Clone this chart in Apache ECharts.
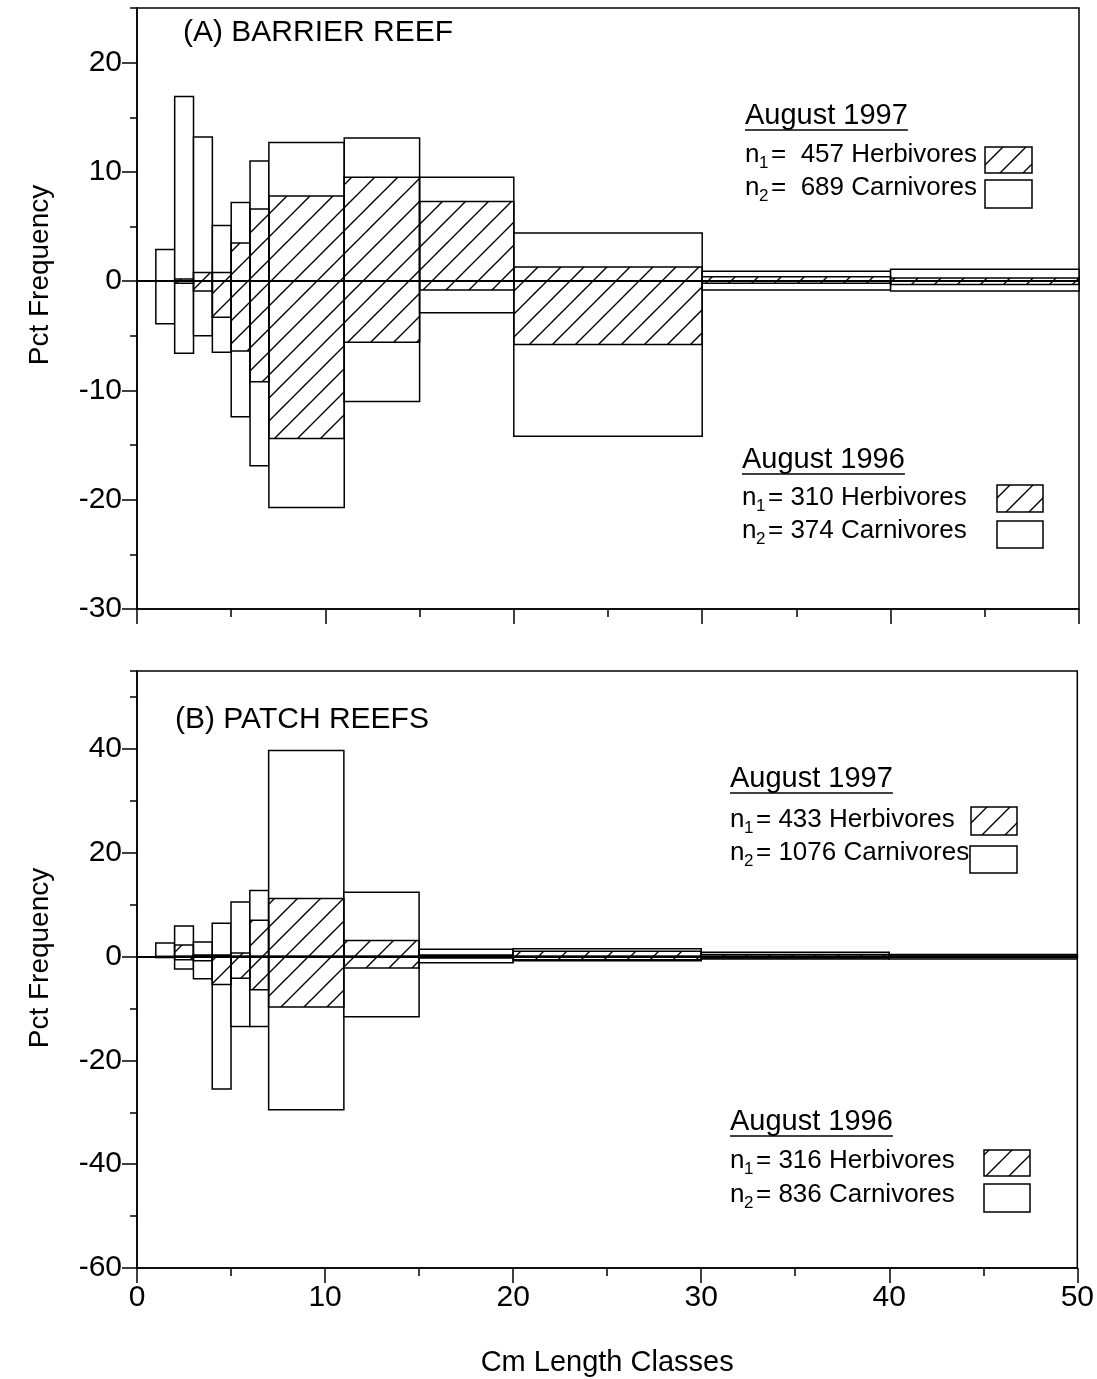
<!DOCTYPE html>
<html>
<head>
<meta charset="utf-8">
<title>Pct Frequency by length class</title>
<script src="https://cdn.jsdelivr.net/npm/echarts@6/dist/echarts.min.js"></script>
<style>
  html, body { margin: 0; padding: 0; background: #fff; }
  #chart { width: 1097px; height: 1379px; }
</style>
</head>
<body>
<div id="chart"></div>
<script>
// length classes in cm (bin edges, classes are unequal)
const binEdges = [1, 2, 3, 4, 5, 6, 7, 11, 15, 20, 30, 40, 50]

// (A) barrier reef, 1997 above zero, 1996 below
const barrierCarn1997 = [2.9, 16.9, 13.2, 5.1, 7.2, 11.0, 12.7, 13.1, 9.5, 4.4, 0.9, 1.1]
const barrierHerb1997 = [0, 0.2, 0.8, 0.8, 3.5, 6.6, 7.8, 9.5, 7.3, 1.3, 0.4, 0.3]
const barrierHerb1996 = [0, -0.2, -0.9, -3.3, -6.4, -9.2, -14.4, -5.6, -0.8, -5.8, -0.2, -0.3]
const barrierCarn1996 = [-3.9, -6.6, -5.0, -6.5, -12.4, -16.9, -20.7, -11.0, -2.9, -14.2, -0.8, -0.9]

// (B) patch reefs
const patchCarn1997 = [2.6, 5.9, 2.8, 6.4, 10.5, 12.7, 39.7, 12.4, 1.4, 1.5, 0.8, 0.4]
const patchHerb1997 = [0, 2.2, 0.3, 0.3, 0.7, 7.0, 11.2, 3.1, 0.3, 1.0, 0.4, 0.1]
const patchHerb1996 = [0, -0.6, -0.8, -5.4, -4.2, -6.4, -9.7, -2.2, -0.3, -0.6, -0.3, -0.2]
const patchCarn1996 = [-0.2, -2.4, -4.3, -25.5, -13.5, -13.5, -29.5, -11.6, -1.2, -0.8, -0.5, -0.5]

// tick labels
const barrierYTicks = [-30, -20, -10, 0, 10, 20]
const patchYTicks = [-60, -40, -20, 0, 20, 40]

const FONT = '"Liberation Sans", Arial, Helvetica, sans-serif'
const lineStyle = { color: '#000', width: 1.5 }

function hatchPattern() {
  const s = 23
  const c = document.createElement('canvas')
  c.width = s
  c.height = s
  const ctx = c.getContext('2d')
  ctx.strokeStyle = '#000'
  ctx.lineWidth = 1.4
  ctx.beginPath()
  ctx.moveTo(0, s); ctx.lineTo(s, 0)
  ctx.moveTo(-s / 2, s / 2); ctx.lineTo(s / 2, -s / 2)
  ctx.moveTo(s / 2, s * 1.5); ctx.lineTo(s * 1.5, s / 2)
  ctx.stroke()
  return { image: c, repeat: 'repeat' }
}
const hatch = hatchPattern()

function boxRenderer(fill) {
  return function (params, api) {
    const v = api.value(2)
    if (!v) return null
    const a = api.coord([api.value(0), 0])
    const b = api.coord([api.value(1), v])
    return {
      type: 'rect',
      shape: { x: a[0], y: Math.min(a[1], b[1]), width: b[0] - a[0], height: Math.abs(b[1] - a[1]) },
      style: { fill: fill, stroke: '#000', lineWidth: 1.5 }
    }
  }
}

function boxSeries(panel, values, fill, zeroLine) {
  const s = {
    type: 'custom',
    xAxisIndex: panel,
    yAxisIndex: panel * 2,
    renderItem: boxRenderer(fill),
    encode: { x: [0, 1], y: 2 },
    data: values.map((v, i) => [binEdges[i], binEdges[i + 1], v]),
    silent: true
  }
  if (zeroLine) {
    s.markLine = {
      silent: true,
      symbol: 'none',
      label: { show: false },
      lineStyle: { color: '#000', width: 2, type: 'solid' },
      data: [{ yAxis: 0 }]
    }
  }
  return s
}

function xAxisFor(panel, withLabels) {
  return {
    type: 'value',
    gridIndex: panel,
    min: 0,
    max: 50,
    interval: 10,
    axisLine: { onZero: false, lineStyle: lineStyle },
    axisTick: { length: 15, lineStyle: lineStyle },
    minorTick: { show: true, splitNumber: 2, length: 8, lineStyle: lineStyle },
    splitLine: { show: false },
    axisLabel: { show: withLabels, margin: 15, color: '#000', fontSize: 30, fontFamily: FONT },
    name: withLabels ? 'Cm Length Classes' : '',
    nameLocation: 'middle',
    nameGap: 80,
    nameTextStyle: { color: '#000', fontSize: 29, fontFamily: FONT }
  }
}

function yAxesFor(panel, min, max, minorStep, ticks) {
  return [
    {
      type: 'value',
      gridIndex: panel,
      min: min,
      max: max,
      interval: minorStep,
      axisLine: { onZero: false, lineStyle: lineStyle },
      axisTick: { length: 7, lineStyle: lineStyle },
      axisLabel: { show: false },
      splitLine: { show: false }
    },
    {
      type: 'value',
      gridIndex: panel,
      min: min,
      max: max,
      interval: ticks[1] - ticks[0],
      position: 'left',
      axisLine: { show: false, onZero: false },
      axisTick: { length: 15, customValues: ticks, lineStyle: lineStyle },
      axisLabel: { customValues: ticks, margin: 15, color: '#000', fontSize: 30, fontFamily: FONT },
      splitLine: { show: false }
    }
  ]
}

// legend and panel text
const measure = document.createElement('canvas').getContext('2d')
function text(x, y, str, size) {
  return { type: 'text', x: x, y: y, style: { text: str, fill: '#000', fontSize: size, fontFamily: FONT, verticalAlign: 'middle' } }
}
function yTitle(y) {
  return {
    type: 'text', x: 40, y: y, rotation: Math.PI / 2,
    style: { text: 'Pct Frequency', fill: '#000', fontSize: 28, fontFamily: FONT, align: 'center', verticalAlign: 'middle' }
  }
}
function heading(x, y, str) {
  measure.font = '29px ' + FONT
  const w = measure.measureText(str).width
  return [
    text(x, y, str, 29),
    { type: 'line', shape: { x1: x, y1: y + 14, x2: x + w, y2: y + 14 }, style: { stroke: '#000', lineWidth: 1.5 } }
  ]
}
function nLine(x, y, sub, rest) {
  return [text(x, y, 'n', 26), text(x + 14, y + 8, sub, 17), text(x + 26, y, rest, 26)]
}
function swatch(x, y, w, h, fill) {
  return { type: 'rect', shape: { x: x, y: y, width: w, height: h }, style: { fill: fill, stroke: '#000', lineWidth: 1.5 } }
}

const graphics = [].concat(
  yTitle(275),
  text(183, 33, '(A) BARRIER REEF', 30),
  heading(745, 116, 'August 1997'),
  nLine(745, 155, '1', '=  457 Herbivores'),
  nLine(745, 188, '2', '=  689 Carnivores'),
  swatch(985, 147, 47, 26, hatch),
  swatch(985, 180, 47, 28, '#fff'),
  heading(742, 460, 'August 1996'),
  nLine(742, 498, '1', '= 310 Herbivores'),
  nLine(742, 531, '2', '= 374 Carnivores'),
  swatch(997, 485, 46, 27, hatch),
  swatch(997, 521, 46, 27, '#fff'),

  yTitle(958),
  text(175, 720, '(B) PATCH REEFS', 30),
  heading(730, 779, 'August 1997'),
  nLine(730, 820, '1', '= 433 Herbivores'),
  nLine(730, 853, '2', '= 1076 Carnivores'),
  swatch(971, 807, 46, 28, hatch),
  swatch(970, 846, 47, 27, '#fff'),
  heading(730, 1122, 'August 1996'),
  nLine(730, 1161, '1', '= 316 Herbivores'),
  nLine(730, 1195, '2', '= 836 Carnivores'),
  swatch(984, 1150, 46, 26, hatch),
  swatch(984, 1184, 46, 28, '#fff')
)

const chart = echarts.init(document.getElementById('chart'), null, { renderer: 'canvas' })
chart.setOption({
  animation: false,
  backgroundColor: '#fff',
  grid: [
    { left: 137, top: 8, right: 18, bottom: 770, show: true, borderColor: '#000', borderWidth: 1.5 },
    { left: 137, top: 671, right: 18, bottom: 111, show: true, borderColor: '#000', borderWidth: 1.5 }
  ],
  xAxis: [xAxisFor(0, false), xAxisFor(1, true)],
  yAxis: [].concat(
    yAxesFor(0, -30, 25, 5, barrierYTicks),
    yAxesFor(1, -60, 55, 10, patchYTicks)
  ),
  series: [
    boxSeries(0, barrierCarn1997, '#fff'),
    boxSeries(0, barrierCarn1996, '#fff'),
    boxSeries(0, barrierHerb1997, hatch),
    boxSeries(0, barrierHerb1996, hatch, true),
    boxSeries(1, patchCarn1997, '#fff'),
    boxSeries(1, patchCarn1996, '#fff'),
    boxSeries(1, patchHerb1997, hatch),
    boxSeries(1, patchHerb1996, hatch, true)
  ],
  graphic: graphics
})
</script>
</body>
</html>
